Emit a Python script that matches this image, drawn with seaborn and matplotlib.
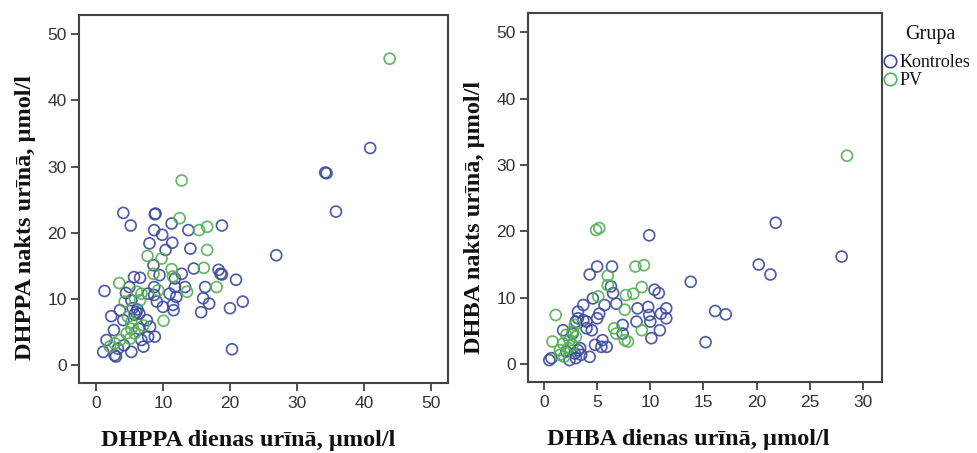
import matplotlib
matplotlib.use("Agg")
import matplotlib.pyplot as plt
from matplotlib.lines import Line2D
import seaborn as sns
import pandas as pd

# DHPPA: day urine (x) vs night urine (y), µmol/l
dhppa_day_kontroles = [40.9, 34.2, 34.4, 35.8, 26.9, 20.3, 4.1, 5.2, 8.8, 8.9, 8.7, 9.9, 11.3, 13.8, 18.8,
                       8.0, 11.4, 10.4, 14.1, 8.6, 14.6, 18.3, 18.6, 18.8, 20.9, 16.3, 16.0, 16.9, 15.7,
                       20.0, 21.9, 12.8, 11.8, 11.8, 13.3, 11.0, 12.0, 11.5, 11.6, 10.0, 9.5, 8.7, 8.7,
                       9.1, 5.7, 6.6, 5.0, 1.3, 4.5, 7.8, 5.5, 6.0, 6.5, 6.2, 5.8, 2.3, 2.7, 1.6, 1.1,
                       2.8, 3.0, 5.3, 7.1, 8.8, 7.8, 7.6, 8.1, 4.1, 5.3, 3.6, 6.4, 4.2, 6.8, 3.3]
dhppa_night_kontroles = [32.8, 29.1, 29.0, 23.2, 16.6, 2.4, 23.0, 21.1, 22.8, 22.9, 20.4, 19.7, 21.4, 20.4, 21.1,
                         18.4, 18.5, 17.4, 17.6, 15.1, 14.6, 14.4, 13.8, 13.7, 12.9, 11.8, 10.1, 9.3, 8.0,
                         8.6, 9.6, 13.8, 13.1, 11.8, 11.8, 10.8, 10.3, 9.1, 8.3, 8.8, 13.6, 11.8, 10.6,
                         9.6, 13.3, 13.2, 11.8, 11.2, 10.9, 10.8, 8.6, 8.0, 7.8, 8.4, 7.6, 7.4, 5.3, 3.8, 2.0,
                         1.5, 1.3, 2.0, 2.8, 4.3, 4.3, 6.8, 5.8, 6.8, 9.8, 8.3, 5.5, 3.0, 3.8, 2.5]
dhppa_day_pv = [43.8, 12.8, 12.5, 15.4, 16.6, 16.6, 7.7, 9.8, 16.1, 11.3, 18.0, 11.5, 13.6, 10.1, 8.6, 9.3,
                3.5, 6.1, 6.8, 4.6, 5.3, 5.8, 3.6, 2.8, 7.1, 4.8, 4.3, 6.6, 5.3, 5.1, 2.1]
dhppa_night_pv = [46.3, 27.9, 22.2, 20.4, 20.9, 17.4, 16.5, 16.1, 14.7, 14.5, 11.8, 13.4, 11.1, 6.7, 13.8, 11.3,
                  12.4, 11.1, 10.8, 4.8, 5.5, 4.8, 3.8, 3.3, 6.0, 7.3, 9.6, 9.8, 6.5, 4.0, 2.8]

# DHBA: day urine (x) vs night urine (y), µmol/l
dhba_day_kontroles = [21.8, 28.0, 20.2, 21.3, 13.8, 16.1, 17.1, 15.2, 9.9, 5.0, 6.4, 4.3, 6.3, 6.5, 10.4,
                      10.8, 6.8, 4.6, 3.7, 5.7, 5.2, 5.0, 3.2, 4.0, 3.0, 8.8, 9.8, 9.9, 10.0, 11.5, 11.5,
                      11.0, 10.9, 10.1, 8.7, 7.4, 7.4, 4.5, 4.8, 5.4, 5.9, 4.3, 5.5, 0.5, 0.7, 1.8, 2.4,
                      2.9, 3.2, 3.5, 3.4, 2.7, 2.1, 3.2, 4.0, 3.7, 3.0]
dhba_night_kontroles = [21.3, 16.2, 15.0, 13.5, 12.4, 8.0, 7.5, 3.3, 19.4, 14.7, 14.7, 13.5, 11.7, 10.7, 11.2,
                        10.7, 9.1, 9.9, 8.9, 8.9, 7.6, 6.9, 7.9, 6.4, 6.4, 8.4, 8.6, 7.4, 6.4, 8.4, 6.9,
                        7.6, 5.1, 3.9, 6.4, 5.9, 4.6, 5.1, 2.9, 2.6, 2.6, 1.1, 3.6, 0.6, 0.9, 5.1, 0.6,
                        1.6, 2.1, 1.4, 2.4, 4.6, 1.9, 6.9, 5.4, 6.6, 0.9]
dhba_day_pv = [28.5, 4.9, 5.2, 6.0, 6.0, 8.6, 9.4, 9.2, 7.7, 8.4, 7.6, 1.1, 5.1, 9.2, 6.6, 6.8, 7.6, 7.9,
               0.8, 1.5, 1.8, 2.1, 2.4, 1.5, 2.7, 2.9, 3.0, 1.9, 2.3, 2.7]
dhba_night_pv = [31.4, 20.2, 20.5, 13.3, 11.9, 14.7, 14.9, 11.6, 10.4, 10.6, 8.2, 7.4, 10.2, 5.1, 5.4, 4.6,
                 3.6, 3.4, 3.4, 2.1, 3.1, 4.4, 3.6, 1.4, 4.9, 5.9, 4.1, 1.1, 2.4, 2.9]

groups = ["Kontroles", "PV"]
group_colors = {"Kontroles": "#3d4b9c", "PV": "#52b152"}


def build_frame(day_k, night_k, day_p, night_p):
    return pd.DataFrame({
        "day": day_k + day_p,
        "night": night_k + night_p,
        "Grupa": [groups[0]] * len(day_k) + [groups[1]] * len(day_p),
    })


dhppa = build_frame(dhppa_day_kontroles, dhppa_night_kontroles, dhppa_day_pv, dhppa_night_pv)
dhba = build_frame(dhba_day_kontroles, dhba_night_kontroles, dhba_day_pv, dhba_night_pv)

sns.set_style("white")
plt.rcParams["font.family"] = ["Liberation Sans", "DejaVu Sans"]

fig = plt.figure(figsize=(9.78, 4.53), dpi=100)
ax1 = fig.add_axes([0.0808, 0.1545, 0.3773, 0.8124])
ax2 = fig.add_axes([0.5399, 0.1567, 0.3620, 0.8146])

label_font = dict(family="Liberation Serif", weight="bold", size=17.5, color="#111111")

panels = [
    (ax1, dhppa, (-2.5, 52.5), range(0, 51, 10),
     "DHPPA dienas urīnā, µmol/l", "DHPPA nakts urīnā, µmol/l", 0.458, 0.451),
    (ax2, dhba, (-1.5, 31.8), range(0, 31, 5),
     "DHBA dienas urīnā, µmol/l", "DHBA nakts urīnā, µmol/l", 0.452, 0.447),
]

for ax, df, xlim, xticks, xlabel, ylabel, xlab_pos, ylab_pos in panels:
    sns.scatterplot(data=df, x="day", y="night", hue="Grupa", hue_order=groups,
                    palette=group_colors, s=62, linewidth=1.25, legend=False, ax=ax)
    # open circles: move fill colour onto the edge
    for coll in ax.collections:
        fc = coll.get_facecolors()
        coll.set_edgecolors(fc)
        coll.set_facecolors("none")
        coll.set_alpha(0.9)
    ax.set_xlim(*xlim)
    ax.set_ylim(-2.7, 52.9)
    ax.set_xticks(list(xticks))
    ax.set_yticks(list(range(0, 51, 10)))
    ax.tick_params(axis="both", which="both", direction="out", length=6, width=1.2,
                   color="#333333", labelsize=12.5, labelcolor="#333333", pad=3,
                   left=True, bottom=True)
    for sp in ax.spines.values():
        sp.set_color("#444444")
        sp.set_linewidth(1.5)
    ax.set_xlabel(xlabel, fontdict=label_font, labelpad=14)
    ax.set_ylabel(ylabel, fontdict=label_font, labelpad=8)
    ax.xaxis.label.set_x(xlab_pos)
    ax.yaxis.label.set_y(ylab_pos)

# group legend to the right of the second panel
fig.text(905 / 978, 1 - 35 / 453, "Grupa", family="Liberation Serif", size=14.5,
         ha="left", va="center", color="#111111")
handles = [Line2D([0], [0], marker="o", linestyle="none", markersize=9,
                  markerfacecolor="none", markeredgecolor=group_colors[g], markeredgewidth=1.2)
           for g in groups]
leg = fig.legend(handles, groups, loc="upper left",
                 bbox_to_anchor=(884 / 978, 1 - 54 / 453), frameon=False,
                 prop=dict(family="Liberation Serif", size=13),
                 handlelength=0.7, handletextpad=0.15, labelspacing=0.05, borderaxespad=0,
                 borderpad=0)
for t in leg.get_texts():
    t.set_color("#111111")

fig.savefig("out.png", dpi=100, facecolor="white")
